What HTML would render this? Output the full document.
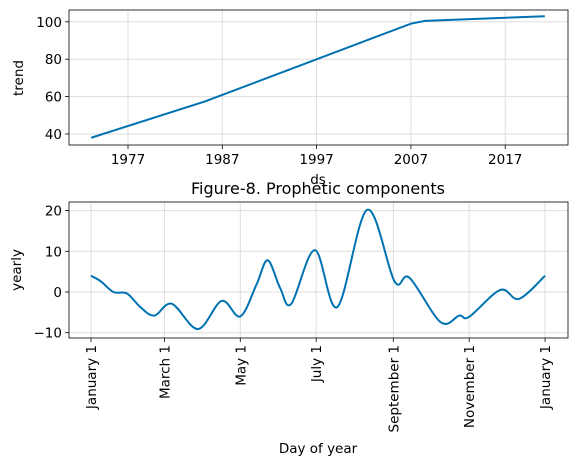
<!DOCTYPE html>
<html><head><meta charset="utf-8"><style>
html,body{margin:0;padding:0;background:#fff;}
svg text{font-family:"DejaVu Sans","Liberation Sans",sans-serif;fill:#000;}
</style></head><body>
<svg id="fig" width="576" height="466" viewBox="0 0 576 466" xmlns="http://www.w3.org/2000/svg"></svg>
<script>
const trendYears = [1973.1, 1985.2, 2007.0, 2008.5, 2021.2];
const trendValues = [38, 57.5, 99, 100.5, 103];
const trendTicks = [1977, 1987, 1997, 2007, 2017];
const trendYTicks = [40, 60, 80, 100];
const yearlyDays = [0,8,18,29,40,51,65,86,105,120,133,142,152,161,180,198,222,244,256,281,296,304,329,344,365];
const yearlyValues = [4.0,2.6,0,-0.4,-3.8,-5.8,-2.9,-9.1,-2.2,-6,1.8,7.8,1,-2.9,10.3,-3.7,20.2,2.6,3.5,-7.4,-5.8,-6.1,0.5,-1.7,4];
const monthTickLabels = ["January 1","March 1","May 1","July 1","September 1","November 1","January 1"];
const monthTickDays = [0,59,120,181,243,304,365];
const yearlyYTicks = [-10,0,10,20];

const NS="http://www.w3.org/2000/svg";
const svg=document.getElementById('fig');
function mk(tag,attrs,parent){const e=document.createElementNS(NS,tag);for(const k in attrs)e.setAttribute(k,attrs[k]);(parent||svg).appendChild(e);return e;}
const blue="#0072B2";
const FS=13.5;

// top axes
const tX=v=>128+(v-1977)*9.43;
const tY=v=>134-(v-40)*1.87;
const g1=mk('g',{});


trendTicks.forEach(t=>{const x=tX(t);
 const gl=mk('line',{x1:x,x2:x,y1:10,y2:145,stroke:'#ddd','stroke-width':1},g1);
 
 mk('line',{x1:x,x2:x,y1:145,y2:149,stroke:'#000','stroke-width':0.8},g1);
 const tx=mk('text',{x:x,y:164,'font-size':FS,'text-anchor':'middle'},g1);tx.textContent=t;
 
});
trendYTicks.forEach(t=>{const y=tY(t);
 mk('line',{x1:69,x2:568,y1:y,y2:y,stroke:'#ddd','stroke-width':1},g1);
 mk('line',{x1:65,x2:69,y1:y,y2:y,stroke:'#000','stroke-width':0.8},g1);
 const tx=mk('text',{x:62,y:y+5,'font-size':FS,'text-anchor':'end'},g1);tx.textContent=t;
 
});
const tl=mk('polyline',{points:trendYears.map((d,i)=>tX(d)+','+tY(trendValues[i])).join(' '),fill:'none',stroke:blue,'stroke-width':2},g1);

mk('rect',{x:69,y:10,width:499,height:135,fill:'none',stroke:'#000','stroke-width':0.8},g1);
let t=mk('text',{x:0,y:0,'font-size':FS,'text-anchor':'middle',transform:'translate(23,78) rotate(-90)'},g1);t.textContent='trend';

t=mk('text',{x:318,y:184,'font-size':FS,'text-anchor':'middle'},g1);t.textContent='ds';

t=mk('text',{x:318,y:194,'font-size':16,'text-anchor':'middle'});t.textContent='Figure-8. Prophetic components';


// bottom axes
const yX=d=>91+d*1.244;
const yY=v=>292-v*4.07;
const g2=mk('g',{});


monthTickDays.forEach((d,i)=>{const x=yX(d);
 mk('line',{x1:x,x2:x,y1:202,y2:338,stroke:'#ddd','stroke-width':1},g2);
 mk('line',{x1:x,x2:x,y1:338,y2:342,stroke:'#000','stroke-width':0.8},g2);
 const tx=mk('text',{x:0,y:0,'font-size':FS,'text-anchor':'end',transform:`translate(${x+5},345) rotate(-90)`},g2);tx.textContent=monthTickLabels[i];
 
});
yearlyYTicks.forEach(v=>{const y=yY(v);
 mk('line',{x1:69,x2:568,y1:y,y2:y,stroke:'#ddd','stroke-width':1},g2);
 mk('line',{x1:65,x2:69,y1:y,y2:y,stroke:'#000','stroke-width':0.8},g2);
 const tx=mk('text',{x:62,y:y+5,'font-size':FS,'text-anchor':'end'},g2);tx.textContent=v<0?'\u2212'+(-v):v;
 
});
const P=yearlyDays.map((d,i)=>[yX(d),yY(yearlyValues[i])]);
let dstr='M'+P[0][0]+','+P[0][1];
for(let i=0;i<P.length-1;i++){const p0=P[Math.max(0,i-1)],p1=P[i],p2=P[i+1],p3=P[Math.min(P.length-1,i+2)];
 const c1=[p1[0]+(p2[0]-p0[0])/6,p1[1]+(p2[1]-p0[1])/6],c2=[p2[0]-(p3[0]-p1[0])/6,p2[1]-(p3[1]-p1[1])/6];
 dstr+=`C${c1[0]},${c1[1]} ${c2[0]},${c2[1]} ${p2[0]},${p2[1]}`;}
const yl=mk('path',{d:dstr,fill:'none',stroke:blue,'stroke-width':2},g2);

mk('rect',{x:69,y:202,width:499,height:136,fill:'none',stroke:'#000','stroke-width':0.8},g2);
t=mk('text',{x:0,y:0,'font-size':FS,'text-anchor':'middle',transform:'translate(21,270) rotate(-90)'},g2);t.textContent='yearly';

t=mk('text',{x:318,y:453,'font-size':FS,'text-anchor':'middle'},g2);t.textContent='Day of year';

</script>
</body></html>
